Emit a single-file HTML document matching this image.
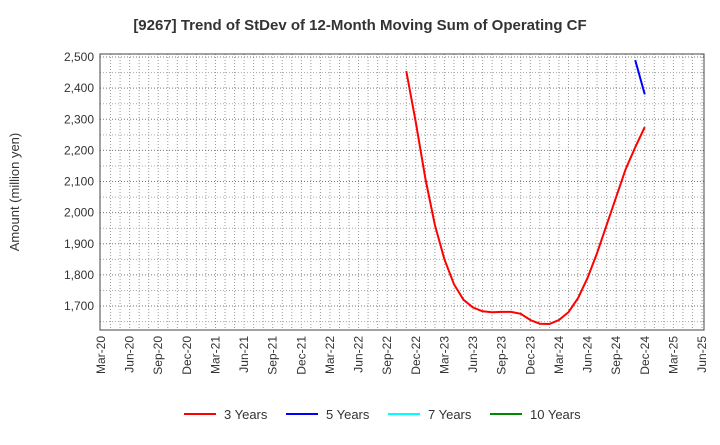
<!DOCTYPE html>
<html><head><meta charset="utf-8"><style>
body{margin:0;background:#fff;font-family:"Liberation Sans",sans-serif}
</style></head><body>
<svg id="c" width="720" height="440" xmlns="http://www.w3.org/2000/svg">
<text x="360" y="30" text-anchor="middle" font-size="15" font-weight="bold" fill="#333">[9267]  Trend of StDev of 12-Month Moving Sum of Operating CF</text>
<text transform="translate(19,192) rotate(-90)" text-anchor="middle" font-size="13" fill="#333">Amount (million yen)</text>
<g id="grid"></g><g id="axes"></g><g id="series"></g>
<g font-size="13" fill="#333">
<line x1="184" y1="414" x2="216" y2="414" stroke="#f00" stroke-width="2"/><text x="224" y="419">3 Years</text>
<line x1="286" y1="414" x2="318" y2="414" stroke="#00f" stroke-width="2"/><text x="326" y="419">5 Years</text>
<line x1="388" y1="414" x2="420" y2="414" stroke="#0ff" stroke-width="2"/><text x="428" y="419">7 Years</text>
<line x1="490" y1="414" x2="522" y2="414" stroke="#080" stroke-width="2"/><text x="530" y="419">10 Years</text>
</g>
</svg>
<script>
const xLabels=["Mar-20","Jun-20","Sep-20","Dec-20","Mar-21","Jun-21","Sep-21","Dec-21","Mar-22","Jun-22","Sep-22","Dec-22","Mar-23","Jun-23","Sep-23","Dec-23","Mar-24","Jun-24","Sep-24","Dec-24","Mar-25","Jun-25"];
const yTicks=[1700,1800,1900,2000,2100,2200,2300,2400,2500];
const red3Start=32; // month index (Nov-22) from Mar-20
const red3=[2455,2290,2110,1960,1850,1770,1720,1695,1683,1680,1681,1681,1675,1655,1643,1642,1655,1680,1725,1790,1870,1960,2050,2140,2210,2275];
const blue5Start=56;
const blue5=[2490,2380];
const NS="http://www.w3.org/2000/svg";
const L=100,R=704,T=54,B=330;
const x0=101,perMonth=(702-101)/63;
const xs=m=>x0+m*perMonth;
const ys=v=>306-(v-1700)*(306-57)/800;
function mk(t,a,p){const e=document.createElementNS(NS,t);for(const k in a)e.setAttribute(k,a[k]);p.appendChild(e);return e;}
const g=document.getElementById('grid'),ax=document.getElementById('axes'),s=document.getElementById('series');
for(let m=0;m<=64;m++){const x=xs(m);if(x<=L+1||x>=R-1)continue;
const l=mk('line',{x1:x,x2:x,y1:T,y2:B,stroke:'#999','stroke-width':1,'stroke-dasharray':'1,2'},g);

}
for(let v=1650;v<=2500;v+=50){const y=ys(v);if(y<T||y>B)continue;
const l=mk('line',{x1:L,x2:R,y1:y,y2:y,stroke:v%100==0?'#777':'#aaa','stroke-width':1,'stroke-dasharray':'1,2'},g);

}
const f=mk('rect',{x:L,y:T,width:R-L,height:B-T,fill:'none',stroke:'#444','stroke-width':1},ax);


yTicks.forEach(v=>{const t=mk('text',{x:94,y:ys(v)+4,'text-anchor':'end','font-size':12,fill:'#333'},ax);t.textContent=v.toLocaleString('en-US');

});
xLabels.forEach((lb,i)=>{const x=xs(i*3);const t=mk('text',{transform:`translate(${x+4},${B+6}) rotate(-90)`,'text-anchor':'end','font-size':12,fill:'#333'},ax);t.textContent=lb;

});
function line(arr,start,col,name){const p=mk('polyline',{points:arr.map((v,i)=>xs(start+i)+','+ys(v)).join(' '),fill:'none',stroke:col,'stroke-width':2},s);

}
line(red3,red3Start,'#f00','line-3-years');
line(blue5,blue5Start,'#00f','line-5-years');
</script>
</body></html>
